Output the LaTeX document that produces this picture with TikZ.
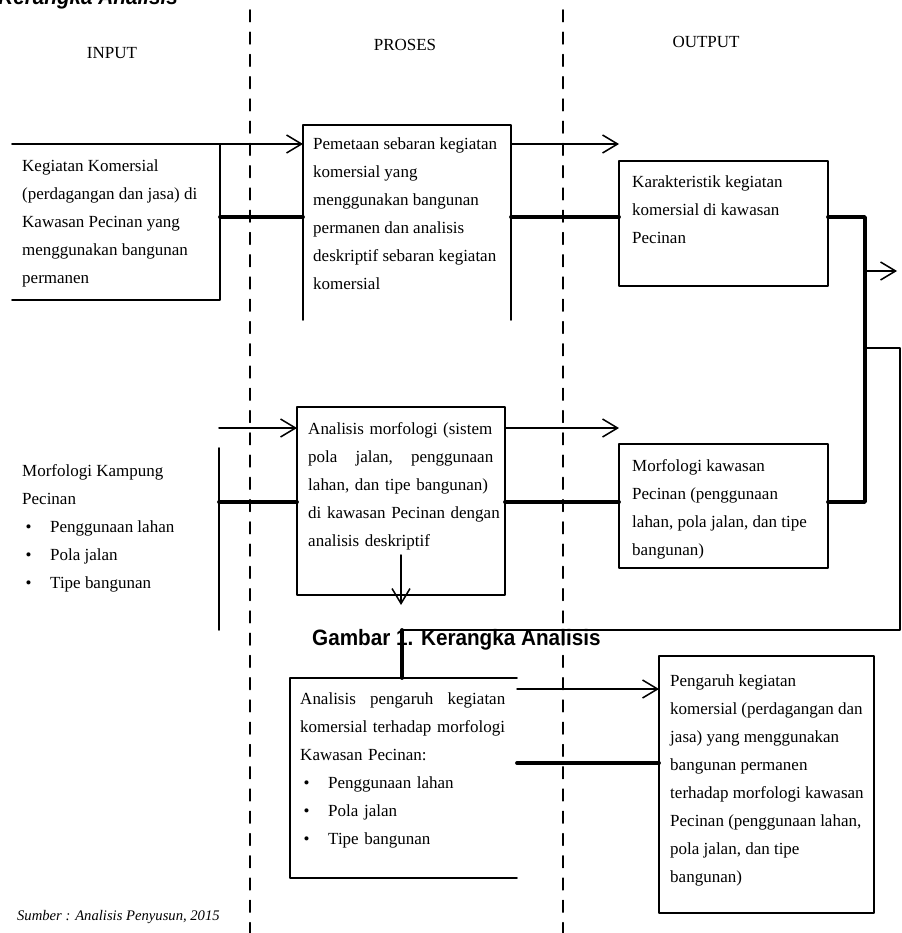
\documentclass[tikz,border=0pt]{standalone}
\usepackage{fontspec}
\setmainfont{Liberation Serif}
\newfontfamily\capfont[FakeStretch=0.93]{Liberation Sans}
\usepackage{tikz}
\usetikzlibrary{arrows.meta, positioning, calc}
\tikzset{every node/.style={font=\fontsize{14.5pt}{24pt}\selectfont}, every path/.style={line cap=round, line join=round}, >={Straight Barb[length=4.5mm, width=5.4mm]}}
\newcommand{\itm}{\makebox[0.84cm][l]{\hspace{0.1cm}\textbullet}}

\begin{document}
\begin{tikzpicture}[
    x=0.03cm, y=-0.03cm,
    box/.style={
        draw,
        line width=1.4pt,
        inner sep=0pt,
        outer sep=0pt
    },
    frame/.style={
        inner sep=0pt,
        outer sep=0pt
    },
    edge/.style={
        line width=1.4pt
    },
    txt/.style={
        anchor=north west,
        align=left,
        inner sep=0pt
    },
    arrow/.style={
        ->,
        line width=1.3pt
    },
    link/.style={
        line width=3.2pt
    },
    wire/.style={
        line width=1.3pt
    },
    sep/.style={
        line width=1.3pt,
        dash pattern=on 10pt off 9pt
    },
    caption/.style={
        font=\capfont\bfseries\fontsize{19pt}{22pt}\selectfont
    }
]
\useasboundingbox (0,0) rectangle (901,933);

\node[caption, anchor=base east] (judul) at (182,5) {\itshape Kerangka Analisis};

\draw[sep] (250,10) -- (250,933);
\draw[sep] (563,10) -- (563,933);

\node (input) at (112,53) {INPUT};
\node (proses) at (405,45) {PROSES};
\node (output) at (706,42) {OUTPUT};

\coordinate (a1) at (0,144);
\coordinate (r1) at (0,217);
\coordinate (a2) at (0,428);
\coordinate (r2) at (0,502);
\coordinate (a3) at (0,689);
\coordinate (r3) at (0,763);

\node[frame, minimum width=6.24cm, minimum height=4.68cm] (in1) at (116,222) {};
\draw[edge] (in1.north west) -- (in1.north east) -- (in1.south east) -- (in1.south west);
\node[txt] (in1-t) at ([shift={(10,15)}]in1.north west)
{Kegiatan Komersial\\(perdagangan dan jasa) di\\Kawasan Pecinan yang\\menggunakan bangunan\\permanen};

\node[frame, minimum width=6.24cm, minimum height=5.85cm] (pro1) at (407,222.5) {};
\draw[edge] (pro1.south west) -- (pro1.north west) -- (pro1.north east) -- (pro1.south east);
\node[txt] (pro1-t) at ([shift={(10,12)}]pro1.north west)
{Pemetaan sebaran kegiatan\\komersial yang\\menggunakan bangunan\\permanen dan analisis\\deskriptif sebaran kegiatan\\komersial};

\node[box, minimum width=6.27cm, minimum height=3.75cm] (out1) at (723.5,223.5) {};
\node[txt] (out1-t) at ([shift={(13,14)}]out1.north west)
{Karakteristik kegiatan\\komersial di kawasan\\Pecinan};

\node[frame, minimum width=6.21cm, minimum height=5.46cm] (in2) at (115.5,539) {};
\draw[edge] (in2.north east) -- (in2.south east);
\node[txt] (in2-t) at ([shift={(10,16)}]in2.north west)
{Morfologi Kampung\\Pecinan\\\itm Penggunaan lahan\\\itm Pola jalan\\\itm Tipe bangunan};

\node[box, minimum width=6.24cm, minimum height=5.64cm] (pro2) at (401,501) {};
\node[txt, text width=5.9cm] (pro2-t) at ([shift={(11,15)}]pro2.north west)
{Analisis morfologi (sistem\\\makebox[5.55cm][l]{pola\hfill jalan,\hfill penggunaan}\\lahan, dan tipe bangunan)\\di kawasan Pecinan dengan\\analisis deskriptif};

\node[box, minimum width=6.27cm, minimum height=3.72cm] (out2) at (723.5,506) {};
\node[txt] (out2-t) at ([shift={(13,15)}]out2.north west)
{Morfologi kawasan\\Pecinan (penggunaan\\lahan, pola jalan, dan tipe\\bangunan)};

\node[frame, minimum width=6.81cm, minimum height=6cm] (pro3) at (403.5,778) {};
\draw[edge] (pro3.north east) -- (pro3.north west) -- (pro3.south west) -- (pro3.south east);
\node[txt, text width=6.15cm] (pro3-t) at ([shift={(10,14)}]pro3.north west)
{Analisis\hfill pengaruh\hfill kegiatan\\komersial terhadap morfologi\\Kawasan Pecinan:\\\itm Penggunaan lahan\\\itm Pola jalan\\\itm Tipe bangunan};

\node[box, minimum width=6.45cm, minimum height=7.71cm] (out3) at (766.5,784.5) {};
\node[txt] (out3-t) at ([shift={(11,18)}]out3.north west)
{Pengaruh kegiatan\\komersial (perdagangan dan\\jasa) yang menggunakan\\bangunan permanen\\terhadap morfologi kawasan\\Pecinan (penggunaan lahan,\\pola jalan, dan tipe\\bangunan)};

\coordinate (jn) at (865,217);
\coordinate (hasil) at (897,271);
\coordinate (rim) at (900,348);
\coordinate (back) at (402,630);

\draw[arrow] (in1.north east) -- (in1.north east -| pro1.west);
\draw[arrow] (pro1.east |- a1) -- (out1.west |- a1);
\draw[link] (in1.east |- r1) -- (pro1.west |- r1);
\draw[link] (pro1.east |- r1) -- (out1.west |- r1);
\draw[link] (out1.east |- r1) -- (jn) -- (jn |- r2) -- (out2.east |- r2);
\draw[arrow] (jn |- hasil) -- (hasil);
\draw[wire] (jn |- rim) -- (rim) |- (back);
\draw[link] (back) -- (back |- pro3.north);

\draw[arrow] (in2.east |- a2) -- (pro2.west |- a2);
\draw[arrow] (pro2.east |- a2) -- (out2.west |- a2);
\draw[link] (in2.east |- r2) -- (pro2.west |- r2);
\draw[link] (pro2.east |- r2) -- (out2.west |- r2);
\draw[arrow] ([yshift=1.2cm]pro2.south) -- ([yshift=-0.3cm]pro2.south);

\draw[arrow] (pro3.east |- a3) -- (out3.west |- a3);
\draw[link] (pro3.east |- r3) -- (out3.west |- r3);

\node[caption, anchor=base west] (gambar) at (308,645) {Gambar 1. Kerangka Analisis};
\node[anchor=west, font=\fontsize{12.5pt}{14pt}\selectfont\itshape] (sumber) at (13,917) {Sumber : Analisis Penyusun, 2015};

\end{tikzpicture}
\end{document}
